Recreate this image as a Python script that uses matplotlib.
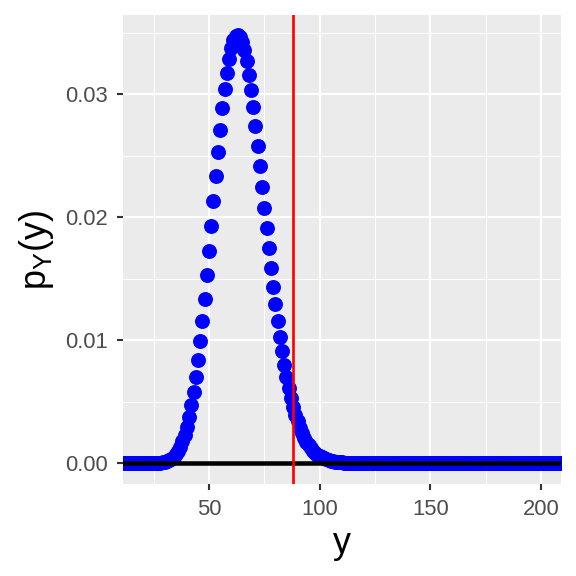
import matplotlib
matplotlib.use("Agg")
import matplotlib.pyplot as plt
from matplotlib.ticker import FixedLocator

# ---- data ----
y_values = list(range(10, 211))  # integer support shown on the x axis
pmf = [
    # 10-19
    0.0, 0.0, 0.0, 0.0, 0.0, 0.0, 0.0, 0.0, 0.0, 0.0,
    # 20-29
    0.0, 0.0, 0.0, 0.0, 0.00001, 0.00001, 0.00002, 0.00003, 0.00005, 0.00008,
    # 30-39
    0.00012, 0.00017, 0.00026, 0.00037, 0.00053, 0.00073, 0.00100, 0.00135, 0.00179, 0.00233,
    # 40-49
    0.00298, 0.00377, 0.00470, 0.00578, 0.00700, 0.00839, 0.00992, 0.01159, 0.01338, 0.01528,
    # 50-59
    0.01725, 0.01927, 0.02131, 0.02332, 0.02527, 0.02713, 0.02885, 0.03040, 0.03176, 0.03289,
    # 60-69
    0.03377, 0.03440, 0.03476, 0.03485, 0.03467, 0.03424, 0.03357, 0.03268, 0.03160, 0.03034,
    # 70-79
    0.02894, 0.02743, 0.02583, 0.02417, 0.02249, 0.02079, 0.01911, 0.01747, 0.01588, 0.01435,
    # 80-89
    0.01291, 0.01154, 0.01027, 0.00909, 0.00801, 0.00702, 0.00612, 0.00532, 0.00459, 0.00395,
    # 90-99
    0.00339, 0.00289, 0.00245, 0.00207, 0.00175, 0.00146, 0.00122, 0.00102, 0.00084, 0.00070,
    # 100-109
    0.00057, 0.00047, 0.00038, 0.00031, 0.00025, 0.00020, 0.00016, 0.00013, 0.00011, 0.00008,
    # 110-119
    0.00007, 0.00005, 0.00004, 0.00003, 0.00003, 0.00002, 0.00002, 0.00001, 0.00001, 0.00001,
    # 120-129
    0.00001, 0.0, 0.0, 0.0, 0.0, 0.0, 0.0, 0.0, 0.0, 0.0,
    # 130-139
    0.0, 0.0, 0.0, 0.0, 0.0, 0.0, 0.0, 0.0, 0.0, 0.0,
    # 140-149
    0.0, 0.0, 0.0, 0.0, 0.0, 0.0, 0.0, 0.0, 0.0, 0.0,
    # 150-159
    0.0, 0.0, 0.0, 0.0, 0.0, 0.0, 0.0, 0.0, 0.0, 0.0,
    # 160-169
    0.0, 0.0, 0.0, 0.0, 0.0, 0.0, 0.0, 0.0, 0.0, 0.0,
    # 170-179
    0.0, 0.0, 0.0, 0.0, 0.0, 0.0, 0.0, 0.0, 0.0, 0.0,
    # 180-189
    0.0, 0.0, 0.0, 0.0, 0.0, 0.0, 0.0, 0.0, 0.0, 0.0,
    # 190-199
    0.0, 0.0, 0.0, 0.0, 0.0, 0.0, 0.0, 0.0, 0.0, 0.0,
    # 200-210
    0.0, 0.0, 0.0, 0.0, 0.0, 0.0, 0.0, 0.0, 0.0, 0.0, 0.0,
]
observed_y = 88
x_ticks = [50, 100, 150, 200]
x_minor = [25, 75, 125, 175]
y_ticks = [0.00, 0.01, 0.02, 0.03]
y_tick_labels = ["0.00", "0.01", "0.02", "0.03"]
y_minor = [0.005, 0.015, 0.025, 0.035]
x_limits = (11.0, 209.0)
y_limits = (-0.00172, 0.03645)

plt.rcParams['font.family'] = ['Liberation Sans', 'DejaVu Sans']
plt.rcParams['mathtext.fontset'] = 'custom'
plt.rcParams['mathtext.rm'] = 'Liberation Sans'
plt.rcParams['mathtext.it'] = 'Liberation Sans'

fig = plt.figure(figsize=(6, 6), dpi=96)
ax = fig.add_axes([0.2130, 0.1592, 0.7609, 0.8148])
ax.set_facecolor('#EBEBEB')

ax.plot(y_values, pmf, linestyle='none', marker='o', markersize=11.2,
        markerfacecolor='#0000FF', markeredgewidth=0, zorder=3, clip_on=True)
ax.axhline(0, color='black', linewidth=3.4, zorder=4)
ax.axvline(observed_y, color='#FF0000', linewidth=2.0, zorder=5)

ax.set_xlim(*x_limits)
ax.set_ylim(*y_limits)
ax.xaxis.set_major_locator(FixedLocator(x_ticks))
ax.xaxis.set_minor_locator(FixedLocator(x_minor))
ax.yaxis.set_major_locator(FixedLocator(y_ticks))
ax.yaxis.set_minor_locator(FixedLocator(y_minor))
ax.set_yticklabels(y_tick_labels)

ax.grid(which='major', color='white', linewidth=1.6, zorder=0)
ax.grid(which='minor', color='white', linewidth=0.8, zorder=0)
ax.set_axisbelow(True)
for s in ax.spines.values():
    s.set_visible(False)

ax.tick_params(which='major', length=4.8, width=1.6, color='#333333',
               labelsize=16.5, labelcolor='#4D4D4D')
ax.tick_params(axis='x', which='major', pad=6.5)
ax.tick_params(axis='y', which='major', pad=6.0)
ax.tick_params(which='minor', length=0)

ax.set_xlabel('y', fontsize=27, color='black', labelpad=4)
ax.set_ylabel(r'$\mathrm{p}_{\mathrm{Y}}\mathrm{(y)}$', fontsize=27, color='black', labelpad=7)

fig.savefig('out.png', dpi=96)
